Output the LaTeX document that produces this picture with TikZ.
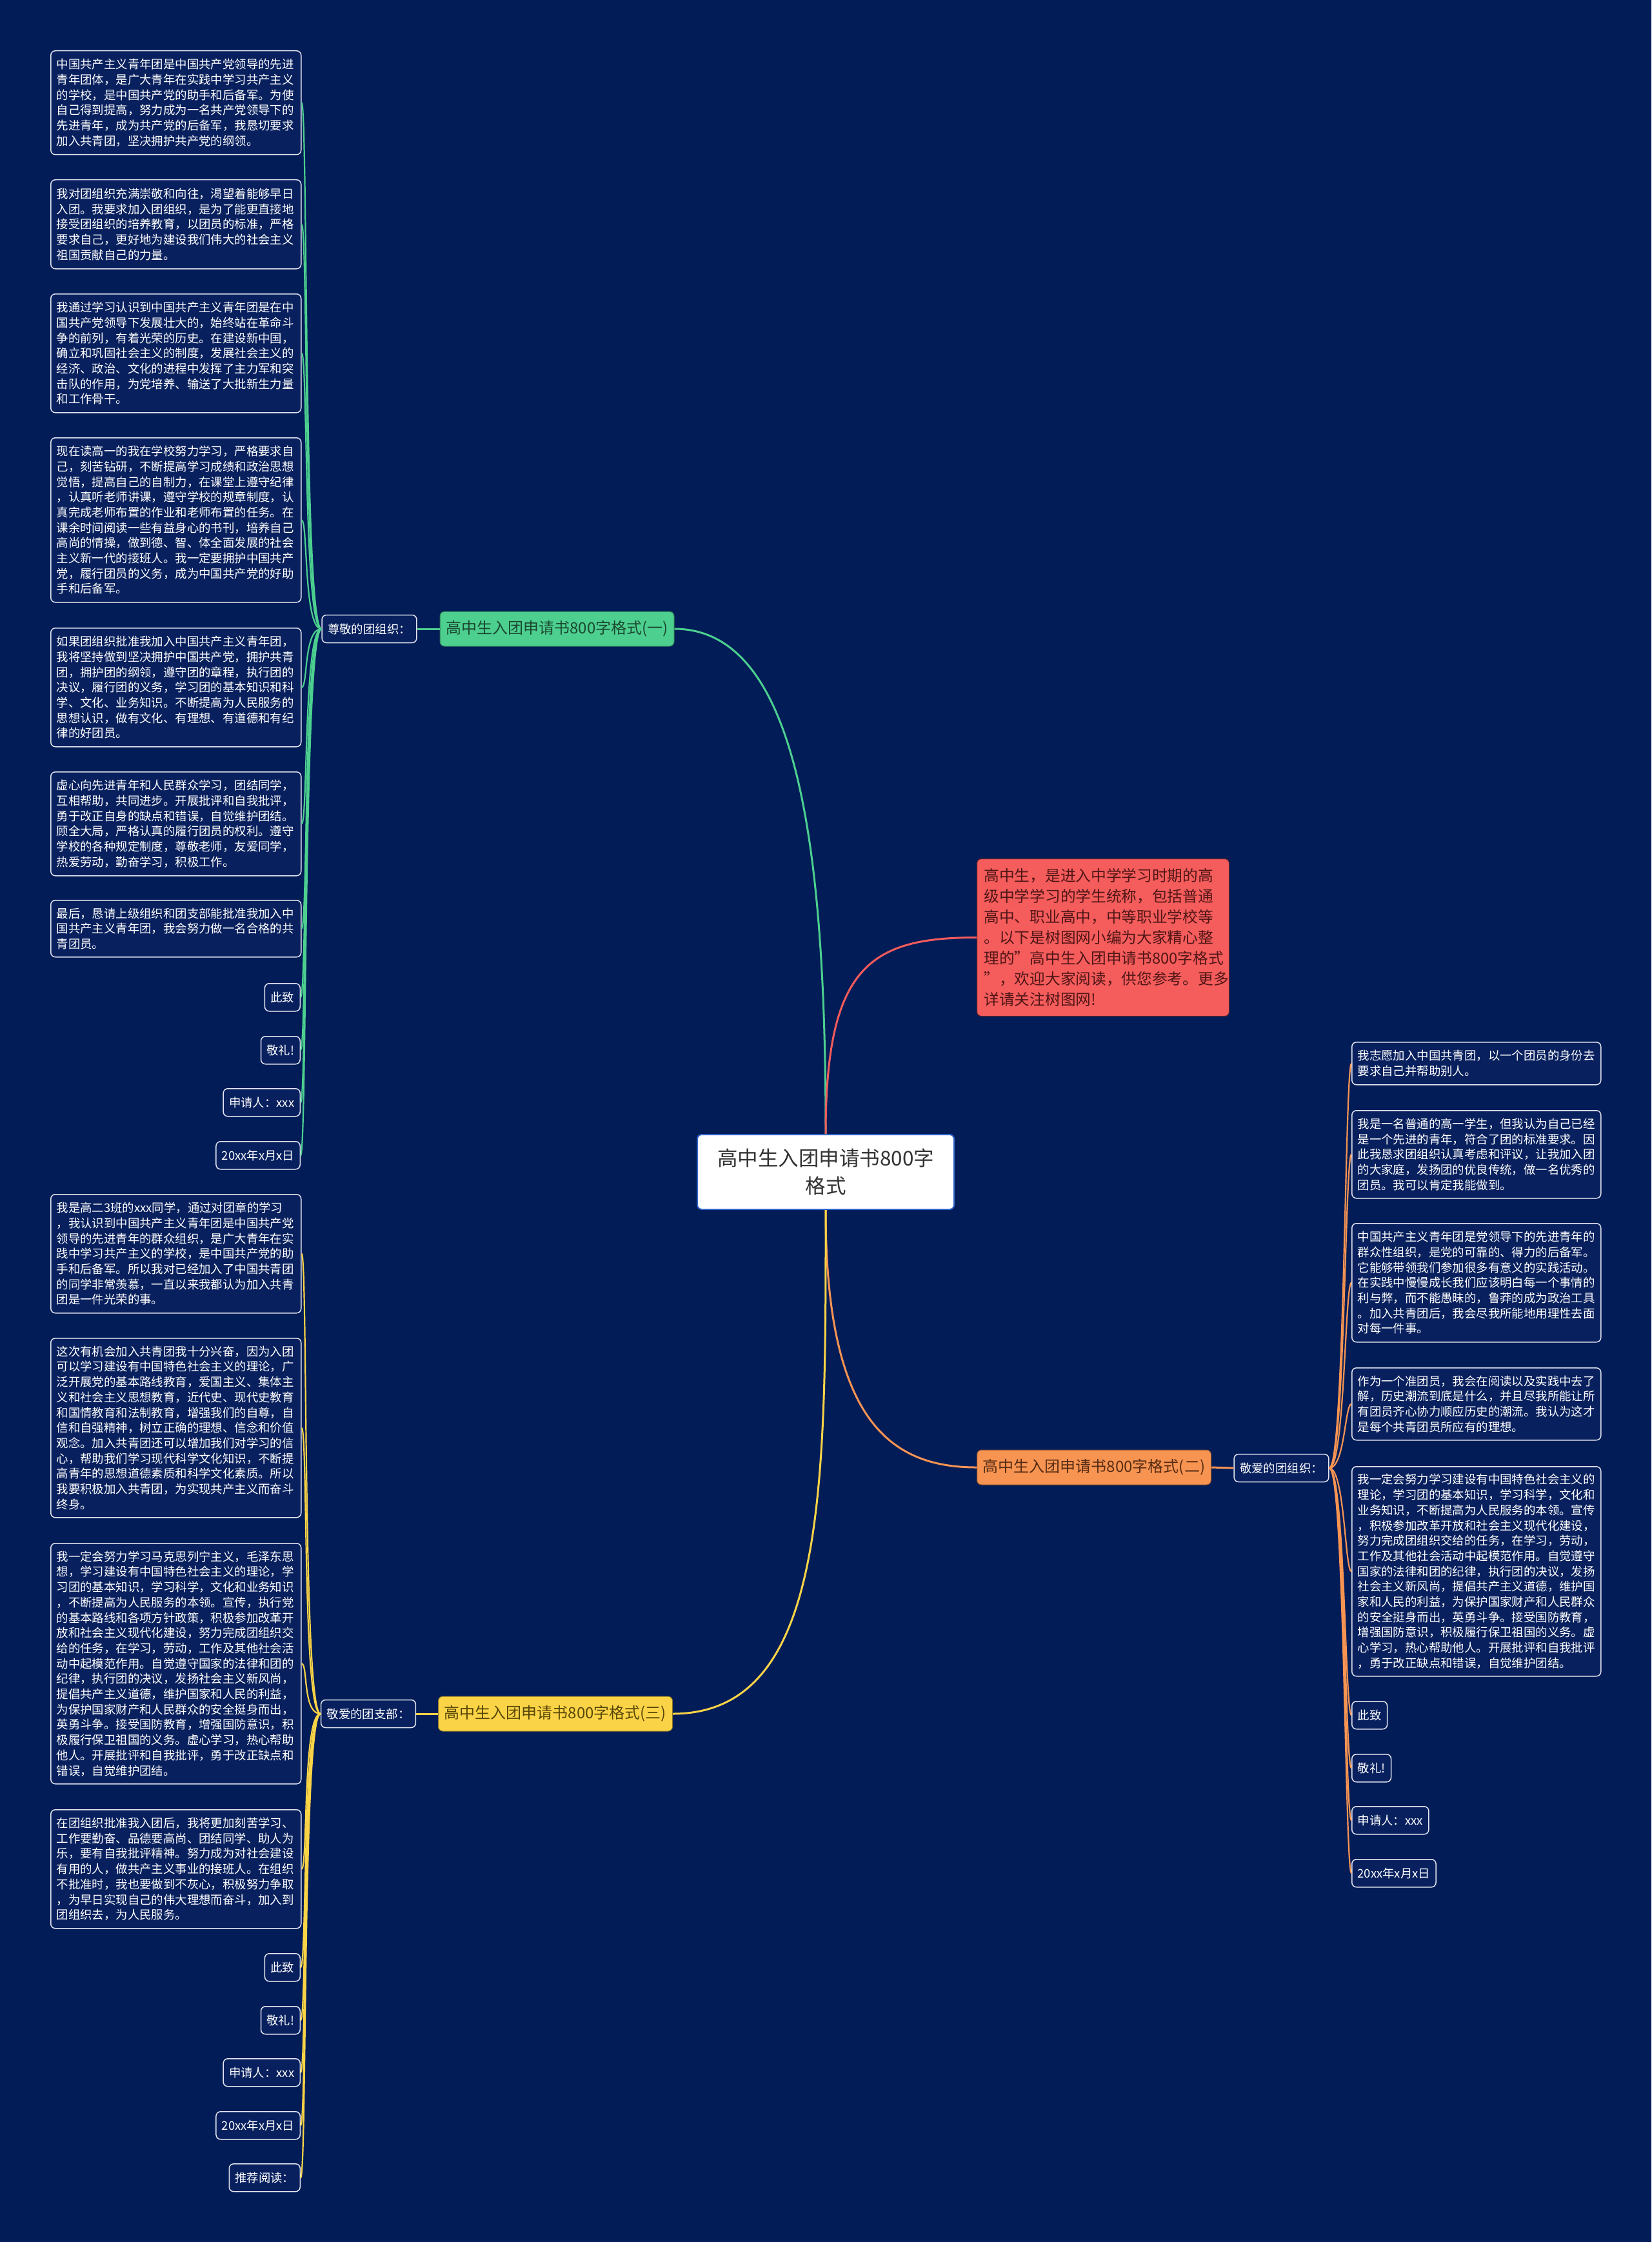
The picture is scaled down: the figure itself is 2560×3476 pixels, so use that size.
\documentclass[tikz,border=0pt]{standalone}
\usepackage{fontspec}
\setmainfont{Noto Sans CJK SC}
\definecolor{bgc}{RGB}{2,28,88}
\definecolor{leaffill}{RGB}{8,32,94}
\definecolor{leafedge}{RGB}{225,228,238}
\definecolor{gcol}{RGB}{76,207,143}
\definecolor{rcol}{RGB}{245,92,92}
\definecolor{ocol}{RGB}{247,148,82}
\definecolor{ycol}{RGB}{250,212,70}
\definecolor{rootedge}{RGB}{50,100,200}
\definecolor{roottext}{RGB}{51,51,51}
\definecolor{introtext}{RGB}{80,22,22}
\definecolor{gtext}{RGB}{28,72,48}
\definecolor{otext}{RGB}{88,44,18}
\definecolor{ytext}{RGB}{88,70,8}
\newcommand\leaffont{\fontsize{18.4pt}{23.7pt}\selectfont}
\newcommand\branchfont{\fontsize{24pt}{30pt}\selectfont}
\newcommand\rootfont{\fontsize{31.5pt}{43pt}\selectfont}
\newcommand\introfont{\fontsize{23.7pt}{32pt}\selectfont}
\begin{document}
\begin{tikzpicture}[x=1pt,y=-1pt,
  leafbox/.style={draw=leafedge, line width=1.5pt, fill=leaffill, rounded corners=7pt, text=white, font=\leaffont, inner xsep=9pt, inner ysep=6pt, align=left},
  bigleft/.style={leafbox, text width=370pt, anchor=north west},
  bigright/.style={leafbox, text width=368pt, anchor=north west},
  smallleft/.style={leafbox, anchor=north east, minimum height=43pt},
  smallright/.style={leafbox, anchor=north west, minimum height=43pt},
  labelbox/.style={leafbox, minimum height=43pt},
  branch/.style={rounded corners=7pt, font=\branchfont, minimum width=363pt, minimum height=54pt, inner xsep=8pt, line width=1pt},
  gmain/.style={draw=gcol, line width=3pt},
  rmain/.style={draw=rcol, line width=3pt},
  omain/.style={draw=ocol, line width=3pt},
  ymain/.style={draw=ycol, line width=3pt},
  gleaf/.style={draw=gcol, line width=2.2pt},
  oleaf/.style={draw=ocol, line width=2.2pt},
  yleaf/.style={draw=ycol, line width=2.2pt}
]
\useasboundingbox (0,0) rectangle (2560,3476);
\fill[bgc] (0,0) rectangle (2560,3476);

% root
\node[draw=rootedge, line width=2pt, fill=white, rounded corners=7pt, text=roottext, font=\rootfont, align=center, minimum width=398pt, minimum height=116pt] (root) at (1280,1817) {高中生入团申请书800字\\格式};

% intro
\node[draw=black!60!rcol, line width=1pt, fill=rcol, rounded corners=7pt, text=introtext, font=\introfont, align=left, text width=369pt, inner xsep=11pt, minimum height=244pt, anchor=north west] (intro) at (1514,1331) {高中生，是进入中学学习时期的高\\级中学学习的学生统称，包括普通\\高中、职业高中，中等职业学校等\\。以下是树图网小编为大家精心整\\理的"高中生入团申请书800字格式\\"，欢迎大家阅读，供您参考。更多\\详请关注树图网!};

% branches
\node[branch, draw=black!45!gcol, fill=gcol, text=gtext] (bg1) at (863.5,975) {高中生入团申请书800字格式(一)};
\node[branch, draw=black!45!ocol, fill=ocol, text=otext] (bo) at (1696,2275) {高中生入团申请书800字格式(二)};
\node[branch, draw=black!45!ycol, fill=ycol, text=ytext] (by) at (861,2657) {高中生入团申请书800字格式(三)};

% labels
\node[labelbox] (lg) at (572.5,975) {尊敬的团组织：};
\node[labelbox] (lo) at (1986.5,2276) {敬爱的团组织：};
\node[labelbox] (ly) at (571,2657) {敬爱的团支部：};

% green leaves
\node[bigleft, minimum height=161pt] (g1) at (78,78) {中国共产主义青年团是中国共产党领导的先进\\青年团体，是广大青年在实践中学习共产主义\\的学校，是中国共产党的助手和后备军。为使\\自己得到提高，努力成为一名共产党领导下的\\先进青年，成为共产党的后备军，我恳切要求\\加入共青团，坚决拥护共产党的纲领。};
\node[bigleft, minimum height=138pt] (g2) at (78,278) {我对团组织充满崇敬和向往，渴望着能够早日\\入团。我要求加入团组织，是为了能更直接地\\接受团组织的培养教育，以团员的标准，严格\\要求自己，更好地为建设我们伟大的社会主义\\祖国贡献自己的力量。};
\node[bigleft, minimum height=184pt] (g3) at (78,455) {我通过学习认识到中国共产主义青年团是在中\\国共产党领导下发展壮大的，始终站在革命斗\\争的前列，有着光荣的历史。在建设新中国，\\确立和巩固社会主义的制度，发展社会主义的\\经济、政治、文化的进程中发挥了主力军和突\\击队的作用，为党培养、输送了大批新生力量\\和工作骨干。};
\node[bigleft, minimum height=255pt] (g4) at (78,678) {现在读高一的我在学校努力学习，严格要求自\\己，刻苦钻研，不断提高学习成绩和政治思想\\觉悟，提高自己的自制力，在课堂上遵守纪律\\，认真听老师讲课，遵守学校的规章制度，认\\真完成老师布置的作业和老师布置的任务。在\\课余时间阅读一些有益身心的书刊，培养自己\\高尚的情操，做到德、智、体全面发展的社会\\主义新一代的接班人。我一定要拥护中国共产\\党，履行团员的义务，成为中国共产党的好助\\手和后备军。};
\node[bigleft, minimum height=184pt] (g5) at (78,973) {如果团组织批准我加入中国共产主义青年团，\\我将坚持做到坚决拥护中国共产党，拥护共青\\团，拥护团的纲领，遵守团的章程，执行团的\\决议，履行团的义务，学习团的基本知识和科\\学、文化、业务知识。不断提高为人民服务的\\思想认识，做有文化、有理想、有道德和有纪\\律的好团员。};
\node[bigleft, minimum height=161pt] (g6) at (78,1196) {虚心向先进青年和人民群众学习，团结同学，\\互相帮助，共同进步。开展批评和自我批评，\\勇于改正自身的缺点和错误，自觉维护团结。\\顾全大局，严格认真的履行团员的权利。遵守\\学校的各种规定制度，尊敬老师，友爱同学，\\热爱劳动，勤奋学习，积极工作。};
\node[bigleft, minimum height=88pt] (g7) at (78,1395) {最后，恳请上级组织和团支部能批准我加入中\\国共产主义青年团，我会努力做一名合格的共\\青团员。};
\node[smallleft] (g8) at (466,1524) {此致};
\node[smallleft] (g9) at (466,1606) {敬礼!};
\node[smallleft] (g10) at (466,1687) {申请人：xxx};
\node[smallleft] (g11) at (466,1769) {20xx年x月x日};

% orange leaves
\node[bigright, minimum height=66pt] (o1) at (2095,1615) {我志愿加入中国共青团，以一个团员的身份去\\要求自己并帮助别人。};
\node[bigright, minimum height=136pt] (o2) at (2095,1721) {我是一名普通的高一学生，但我认为自己已经\\是一个先进的青年，符合了团的标准要求。因\\此我恳求团组织认真考虑和评议，让我加入团\\的大家庭，发扬团的优良传统，做一名优秀的\\团员。我可以肯定我能做到。};
\node[bigright, minimum height=184pt] (o3) at (2095,1896) {中国共产主义青年团是党领导下的先进青年的\\群众性组织，是党的可靠的、得力的后备军。\\它能够带领我们参加很多有意义的实践活动。\\在实践中慢慢成长我们应该明白每一个事情的\\利与弊，而不能愚昧的，鲁莽的成为政治工具\\。加入共青团后，我会尽我所能地用理性去面\\对每一件事。};
\node[bigright, minimum height=112pt] (o4) at (2095,2120) {作为一个准团员，我会在阅读以及实践中去了\\解，历史潮流到底是什么，并且尽我所能让所\\有团员齐心协力顺应历史的潮流。我认为这才\\是每个共青团员所应有的理想。};
\node[bigright, minimum height=325pt] (o5) at (2095,2273) {我一定会努力学习建设有中国特色社会主义的\\理论，学习团的基本知识，学习科学，文化和\\业务知识，不断提高为人民服务的本领。宣传\\，积极参加改革开放和社会主义现代化建设，\\努力完成团组织交给的任务，在学习，劳动，\\工作及其他社会活动中起模范作用。自觉遵守\\国家的法律和团的纪律，执行团的决议，发扬\\社会主义新风尚，提倡共产主义道德，维护国\\家和人民的利益，为保护国家财产和人民群众\\的安全挺身而出，英勇斗争。接受国防教育，\\增强国防意识，积极履行保卫祖国的义务。虚\\心学习，热心帮助他人。开展批评和自我批评\\，勇于改正缺点和错误，自觉维护团结。};
\node[smallright] (o6) at (2095,2637) {此致};
\node[smallright] (o7) at (2095,2719) {敬礼!};
\node[smallright] (o8) at (2095,2800) {申请人：xxx};
\node[smallright] (o9) at (2095,2882) {20xx年x月x日};

% yellow leaves
\node[bigleft, minimum height=184pt] (yl1) at (78,1851) {我是高二3班的xxx同学，通过对团章的学习\\，我认识到中国共产主义青年团是中国共产党\\领导的先进青年的群众组织，是广大青年在实\\践中学习共产主义的学校，是中国共产党的助\\手和后备军。所以我对已经加入了中国共青团\\的同学非常羡慕，一直以来我都认为加入共青\\团是一件光荣的事。};
\node[bigleft, minimum height=278pt] (yl2) at (78,2074) {这次有机会加入共青团我十分兴奋，因为入团\\可以学习建设有中国特色社会主义的理论，广\\泛开展党的基本路线教育，爱国主义、集体主\\义和社会主义思想教育，近代史、现代史教育\\和国情教育和法制教育，增强我们的自尊，自\\信和自强精神，树立正确的理想、信念和价值\\观念。加入共青团还可以增加我们对学习的信\\心，帮助我们学习现代科学文化知识，不断提\\高青年的思想道德素质和科学文化素质。所以\\我要积极加入共青团，为实现共产主义而奋斗\\终身。};
\node[bigleft, minimum height=373pt] (yl3) at (78,2392) {我一定会努力学习马克思列宁主义，毛泽东思\\想，学习建设有中国特色社会主义的理论，学\\习团的基本知识，学习科学，文化和业务知识\\，不断提高为人民服务的本领。宣传，执行党\\的基本路线和各项方针政策，积极参加改革开\\放和社会主义现代化建设，努力完成团组织交\\给的任务，在学习，劳动，工作及其他社会活\\动中起模范作用。自觉遵守国家的法律和团的\\纪律，执行团的决议，发扬社会主义新风尚，\\提倡共产主义道德，维护国家和人民的利益，\\为保护国家财产和人民群众的安全挺身而出，\\英勇斗争。接受国防教育，增强国防意识，积\\极履行保卫祖国的义务。虚心学习，热心帮助\\他人。开展批评和自我批评，勇于改正缺点和\\错误，自觉维护团结。};
\node[bigleft, minimum height=184pt] (yl4) at (78,2805) {在团组织批准我入团后，我将更加刻苦学习、\\工作要勤奋、品德要高尚、团结同学、助人为\\乐，要有自我批评精神。努力成为对社会建设\\有用的人，做共产主义事业的接班人。在组织\\不批准时，我也要做到不灰心，积极努力争取\\，为早日实现自己的伟大理想而奋斗，加入到\\团组织去，为人民服务。};
\node[smallleft] (yl5) at (466,3028) {此致};
\node[smallleft] (yl6) at (466,3110) {敬礼!};
\node[smallleft] (yl7) at (466,3191) {申请人：xxx};
\node[smallleft] (yl8) at (466,3273) {20xx年x月x日};
\node[smallleft] (yl9) at (466,3354) {推荐阅读：};

% main connectors
\draw[gmain] (root.north) .. controls +(0,-430) and +(195,0) .. (bg1.east);
\draw[rmain] (root.north) .. controls +(0,-260) and +(-165,0) .. (intro.west);
\draw[omain] (root.south) .. controls +(0,325) and +(-135,0) .. (bo.west);
\draw[ymain] (root.south) .. controls +(0,425) and +(240,0) .. (by.east);

\draw[gmain] (bg1.west) -- (lg.east);
\draw[omain] (bo.east) -- (lo.west);
\draw[ymain] (by.west) -- (ly.east);

% leaf connectors
\foreach \n in {g1,g2,g3,g4,g5,g6,g7,g8,g9,g10,g11}
  \draw[gleaf] (lg.west) .. controls +(-28,0) and +(10,0) .. (\n.east);
\foreach \n in {o1,o2,o3,o4,o5,o6,o7,o8,o9}
  \draw[oleaf] (lo.east) .. controls +(24,0) and +(-10,0) .. (\n.west);
\foreach \n in {yl1,yl2,yl3,yl4,yl5,yl6,yl7,yl8,yl9}
  \draw[yleaf] (ly.west) .. controls +(-28,0) and +(10,0) .. (\n.east);
\end{tikzpicture}
\end{document}
